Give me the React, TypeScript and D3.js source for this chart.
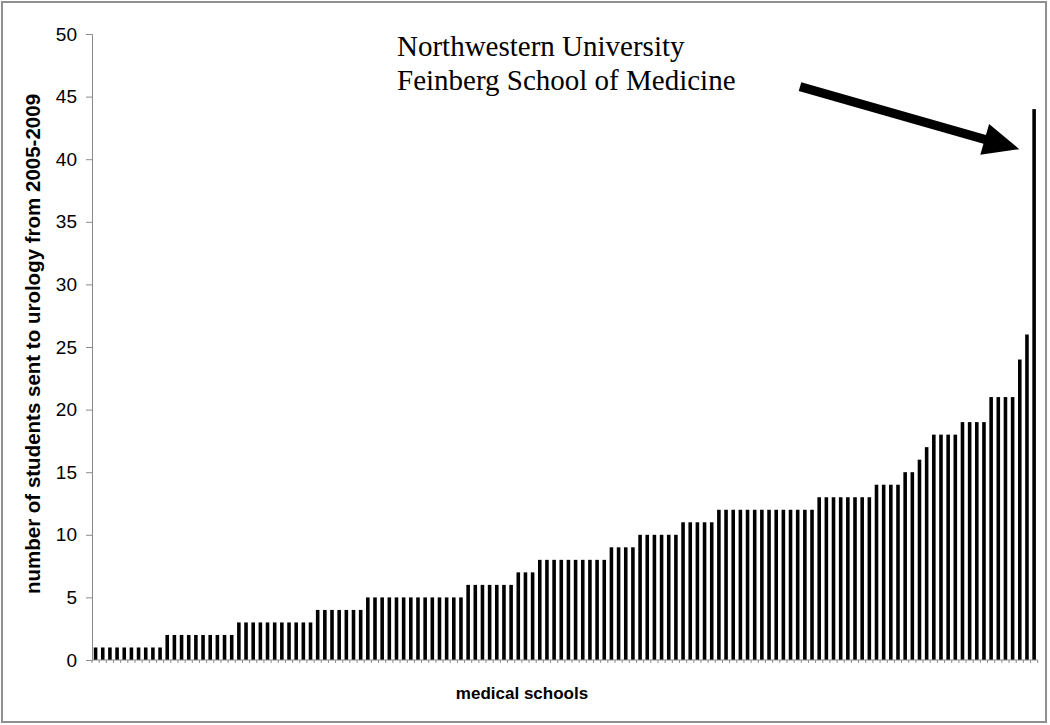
import { useEffect, useRef } from "react";
import * as d3 from "d3";

// urology matches per school, sorted ascending
const groupValues = [1, 2, 3, 4, 5, 6, 7, 8, 9, 10, 11, 12, 13, 14, 15, 16, 17, 18, 19, 21, 24, 26, 44];
const groupCounts = [10, 10, 11, 7, 14, 7, 3, 10, 4, 6, 5, 14, 8, 4, 2, 1, 1, 4, 4, 4, 1, 1, 1];
const yTicks = [0, 5, 10, 15, 20, 25, 30, 35, 40, 45, 50];
const annotationLines = ["Northwestern University", "Feinberg School of Medicine"];

const schoolValues: number[] = [];
groupValues.forEach((v, i) => {
  for (let k = 0; k < groupCounts[i]; k++) schoolValues.push(v);
});

const W = 1050;
const H = 725;

export default function App() {
  const svgRef = useRef<SVGSVGElement | null>(null);

  useEffect(() => {
    const svg = d3.select(svgRef.current);
    svg.selectAll("*").remove();

    const left = 92;
    const right = 1037.7;
    const top = 34;
    const bottom = 660;

    // outer frame
    svg.append("rect")
      .attr("x", 2).attr("y", 2)
      .attr("width", 1044).attr("height", 720)
      .attr("fill", "white")
      .attr("stroke", "#909090")
      .attr("stroke-width", 2);

    const x = d3.scaleBand<number>()
      .domain(d3.range(schoolValues.length))
      .range([left, right])
      .paddingInner(0.5)
      .paddingOuter(0.25);

    const y = d3.scaleLinear().domain([0, 50]).range([bottom, top]);

    // bars
    svg.append("g")
      .selectAll("rect")
      .data(schoolValues)
      .join("rect")
      .attr("x", (d, i) => x(i)!)
      .attr("y", d => y(d))
      .attr("width", x.bandwidth())
      .attr("height", d => y(0) - y(d))
      .attr("fill", "black");

    // y axis
    const yAxis = d3.axisLeft(y).tickValues(yTicks).tickSize(6).tickPadding(9);
    const gy = svg.append("g").attr("transform", `translate(${left},0)`).call(yAxis);
    gy.select(".domain").attr("stroke", "#8a8a8a");
    gy.selectAll(".tick line").attr("stroke", "#8a8a8a");
    gy.selectAll(".tick text")
      .attr("font-family", "Liberation Sans, Arial, sans-serif")
      .attr("font-size", 19)
      .attr("fill", "black");

    // x axis with category boundary ticks
    svg.append("line")
      .attr("x1", left).attr("x2", right)
      .attr("y1", bottom).attr("y2", bottom)
      .attr("stroke", "#8a8a8a");
    const step = x.step();
    const boundaries = d3.range(schoolValues.length + 1).map(i => x(0)! - (step - x.bandwidth()) / 2 + i * step);
    svg.append("g")
      .selectAll("line")
      .data(boundaries)
      .join("line")
      .attr("x1", d => d).attr("x2", d => d)
      .attr("y1", bottom).attr("y2", bottom + 3)
      .attr("stroke", "#8a8a8a");

    // axis titles
    svg.append("text")
      .attr("transform", `translate(40,344) rotate(-90)`)
      .attr("text-anchor", "middle")
      .attr("font-family", "Liberation Sans, Arial, sans-serif")
      .attr("font-weight", "bold")
      .attr("font-size", 20.5)
      .text("number of students sent to urology from 2005-2009");

    svg.append("text")
      .attr("x", 522).attr("y", 699)
      .attr("text-anchor", "middle")
      .attr("font-family", "Liberation Sans, Arial, sans-serif")
      .attr("font-weight", "bold")
      .attr("font-size", 17)
      .text("medical schools");

    // annotation
    svg.append("text")
      .attr("font-family", "Liberation Serif, Times New Roman, serif")
      .attr("font-size", 29)
      .selectAll("tspan")
      .data(annotationLines)
      .join("tspan")
      .attr("x", 397)
      .attr("y", (d, i) => 56 + i * 34)
      .text(d => d);

    // arrow pointing at the tallest bar
    const last = schoolValues.length - 1;
    const tip: [number, number] = [x(last)! - 13, y(40.8)];
    const tail: [number, number] = [800, y(45.8)];
    const dx = tip[0] - tail[0];
    const dy = tip[1] - tail[1];
    const len = Math.hypot(dx, dy);
    const ux = dx / len, uy = dy / len;
    const nx = -uy, ny = ux;
    const headLen = 36, headHalf = 16, shaftHalf = 4.6;
    const bx = tip[0] - ux * headLen, by = tip[1] - uy * headLen;
    const pts: [number, number][] = [
      [tail[0] + nx * shaftHalf, tail[1] + ny * shaftHalf],
      [bx + nx * shaftHalf, by + ny * shaftHalf],
      [bx + nx * headHalf, by + ny * headHalf],
      tip,
      [bx - nx * headHalf, by - ny * headHalf],
      [bx - nx * shaftHalf, by - ny * shaftHalf],
      [tail[0] - nx * shaftHalf, tail[1] - ny * shaftHalf],
    ];
    svg.append("polygon")
      .attr("points", pts.map(p => p.join(",")).join(" "))
      .attr("fill", "black");
  }, []);

  return (
    <svg
      ref={svgRef}
      width={W}
      height={H}
      style={{ position: "absolute", left: 0, top: 0, display: "block" }}
    />
  );
}
